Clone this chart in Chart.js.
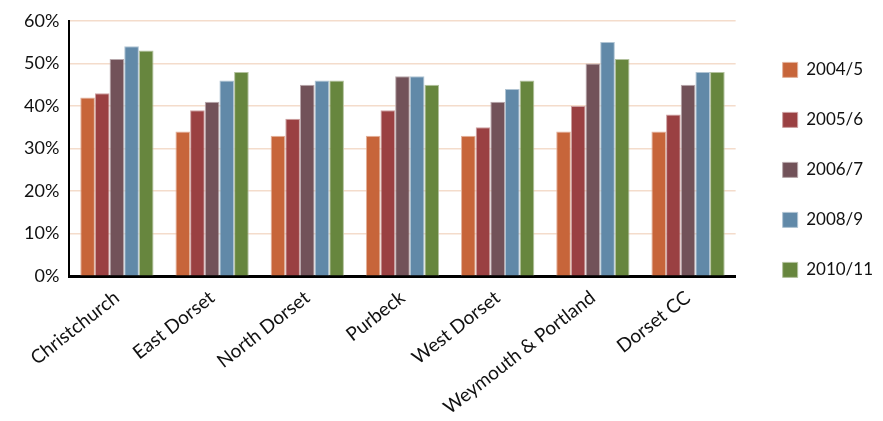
<!DOCTYPE html>
<html>
<head>
<meta charset="utf-8">
<script src="https://cdn.jsdelivr.net/npm/chart.js@4/dist/chart.umd.min.js"></script>
<style>
  html, body { margin:0; padding:0; background:#fff; }
  #wrap { width:883px; height:421px; }
</style>
</head>
<body>
<div id="wrap"><canvas id="chart"></canvas></div>
<script>
// ============================================
// Data
// ============================================

const districts = [
    "Christchurch", "East Dorset", "North Dorset", "Purbeck",
    "West Dorset", "Weymouth & Portland", "Dorset CC"
];

const years = ["2004/5", "2005/6", "2006/7", "2008/9", "2010/11"];

const yr2004 = [42, 34, 33, 33, 33, 34, 34];
const yr2005 = [43, 39, 37, 39, 35, 40, 38];
const yr2006 = [51, 41, 45, 47, 41, 50, 45];
const yr2008 = [54, 46, 46, 47, 44, 55, 48];
const yr2010 = [53, 48, 46, 45, 46, 51, 48];

const yTicks = [0, 10, 20, 30, 40, 50, 60];

const colors = ["#C7653A", "#9A4042", "#725259", "#6189A8", "#67863E"];
const edges  = ["#E3B29C", "#CDA0A1", "#B8A8AC", "#B0C4D3", "#B3C29E"];

const series = [yr2004, yr2005, yr2006, yr2008, yr2010];

// ============================================
// Chart
// ============================================

new Chart(document.getElementById("chart"), {
    type: "bar",
    data: {
        labels: districts,
        datasets: series.map((vals, i) => ({
            label: years[i],
            data: vals,
            backgroundColor: colors[i],
            borderColor: edges[i],
            borderWidth: 1
        }))
    },
    options: {
        responsive: true,
        maintainAspectRatio: false,
        animation: false,
        layout: { padding: { top: 10, left: 14, right: 0, bottom: 0 } },
        datasets: {
            bar: { categoryPercentage: 0.77, barPercentage: 1.0 }
        },
        plugins: {
            tooltip: { enabled: false },
            legend: {
                position: "right",
                align: "start",
                title: { display: true, text: "", padding: { top: 4 } },
                labels: {
                    font: { family: "Lato", size: 17 },
                    color: "#111",
                    boxWidth: 15,
                    boxHeight: 15,
                    padding: 33
                }
            }
        },
        scales: {
            x: {
                grid: { display: false },
                border: { color: "#000", width: 3 },
                ticks: {
                    color: "#111",
                    font: { family: "Lato", size: 19 },
                    minRotation: 38,
                    maxRotation: 38,
                    padding: 2
                }
            },
            y: {
                min: 0,
                max: 60,
                afterBuildTicks: axis => {
                    axis.ticks = yTicks.map(v => ({ value: v }));
                },
                grid: { color: "#F4DCCB", lineWidth: 1.5, drawTicks: false },
                border: { color: "#000", width: 2 },
                ticks: {
                    color: "#111",
                    font: { family: "Lato", size: 18 },
                    padding: 10,
                    callback: v => v + "%"
                }
            },
            // spacer between plot and legend
            gap: {
                position: "right",
                grid: { display: false },
                border: { display: false },
                ticks: { display: false },
                afterFit: axis => { axis.width = 14; }
            }
        }
    }
});
</script>
</body>
</html>
